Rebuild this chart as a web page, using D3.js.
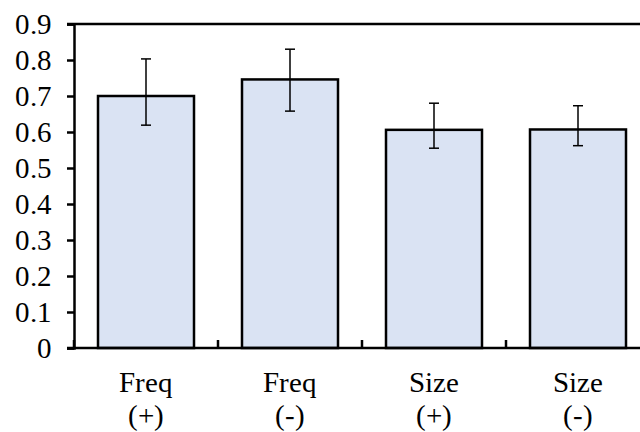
<!DOCTYPE html>
<html><head><meta charset="utf-8">
<script src="https://cdn.jsdelivr.net/npm/d3@7"></script>
<style>
@font-face { font-family: "ChartSerif"; src: local("Liberation Serif"), local("LiberationSerif"), local("Liberation Serif Regular"), local("Times New Roman"); }
body{margin:0;background:#fff}
</style>
</head><body>
<svg id="c" width="640" height="432"></svg>
<script>
const categories = [["Freq","(+)"],["Freq","(-)"],["Size","(+)"],["Size","(-)"]];
const values = [0.700, 0.746, 0.606, 0.607];
const errHigh = [0.803, 0.830, 0.680, 0.673];
const errLow = [0.619, 0.658, 0.555, 0.562];
const yTicks = [0,0.1,0.2,0.3,0.4,0.5,0.6,0.7,0.8,0.9];

const svg = d3.select("#c");
const mL = 74, mR = 650, mT = 24, mB = 348;
const fontList = "ChartSerif, 'Liberation Serif', 'Times New Roman', serif";
const x = d3.scaleBand().domain(d3.range(categories.length)).range([mL, mR]).paddingInner(1/3).paddingOuter(1/6);
const y = d3.scaleLinear().domain([0, 0.9]).range([mB, mT]);

svg.selectAll("rect.bar").data(values).join("rect").attr("class","bar")
  .attr("x", (d,i)=>x(i)).attr("width", x.bandwidth())
  .attr("y", d=>y(d)).attr("height", d=>mB - y(d))
  .attr("fill", "#dae3f3").attr("stroke", "#000").attr("stroke-width", 2.5);

const eb = svg.append("g").attr("stroke","#000").attr("stroke-width",1.5);
values.forEach((v,i)=>{
  const cx = x(i) + x.bandwidth()/2;
  eb.append("line").attr("x1",cx).attr("x2",cx).attr("y1",y(errHigh[i])).attr("y2",y(errLow[i]));
  eb.append("line").attr("x1",cx-5).attr("x2",cx+5).attr("y1",y(errHigh[i])).attr("y2",y(errHigh[i]));
  eb.append("line").attr("x1",cx-5).attr("x2",cx+5).attr("y1",y(errLow[i])).attr("y2",y(errLow[i]));
});

const yAxis = d3.axisLeft(y).tickValues(yTicks).tickSize(7).tickPadding(15)
  .tickFormat(d=> d===0 ? "0" : d3.format(".1f")(d));
const gy = svg.append("g").attr("transform",`translate(${mL},0)`).call(yAxis);
gy.attr("font-family", null).attr("font-size", null);
gy.select(".domain").attr("stroke-width",2.5);
gy.selectAll(".tick line").attr("stroke-width",2.5);
gy.selectAll(".tick text").style("font-family", fontList).style("font-size","29px").attr("fill","#000");

svg.append("line").attr("x1",mL-7).attr("x2",mR).attr("y1",mT).attr("y2",mT)
  .attr("stroke","#000").attr("stroke-width",2.5);

const xEdges = d3.range(categories.length+1).map(i=> mL + i*(mR-mL)/categories.length);
svg.append("line").attr("x1",mL-7).attr("x2",mR).attr("y1",mB).attr("y2",mB)
  .attr("stroke","#000").attr("stroke-width",2.5);
svg.selectAll("line.xt").data(xEdges).join("line").attr("class","xt")
  .attr("x1",d=>d).attr("x2",d=>d).attr("y1",mB).attr("y2",mB-8)
  .attr("stroke","#000").attr("stroke-width",2.5);

svg.selectAll("text.xl1").data(categories).join("text").attr("class","xl1")
  .attr("text-anchor","middle").style("font-family", fontList).style("font-size","29px").attr("fill","#000")
  .attr("x",(d,i)=>x(i)+x.bandwidth()/2).attr("y",392).text(d=>d[0]);
svg.selectAll("text.xl2").data(categories).join("text").attr("class","xl2")
  .attr("text-anchor","middle").style("font-family", fontList).style("font-size","29px").attr("fill","#000")
  .attr("x",(d,i)=>x(i)+x.bandwidth()/2).attr("y",425).text(d=>d[1]);
</script>
</body></html>
